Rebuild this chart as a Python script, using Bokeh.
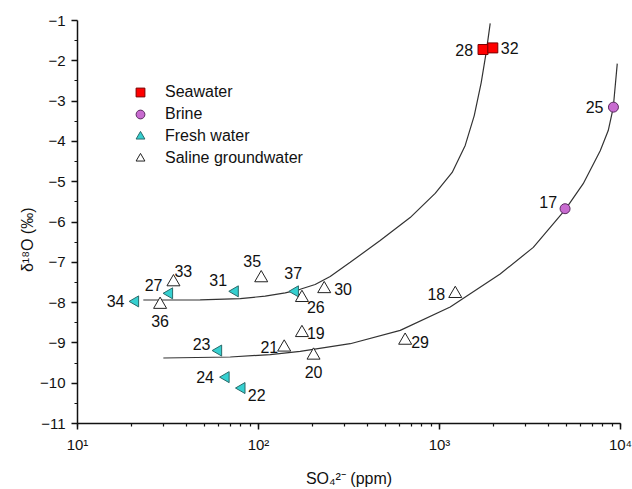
import numpy as np
from bokeh.plotting import figure
from bokeh.models import (ColumnDataSource, FixedTicker, CustomJSTickFormatter,
                          Legend, LegendItem, Range1d)
from bokeh.core.properties import value
from bokeh.embed import file_html
from bokeh.resources import INLINE

# ---------------- data ----------------
sea_id = ["28", "32"]
sea_so4 = [1740, 1970]
sea_d18o = [-1.72, -1.68]

brine_id = ["25", "17"]
brine_so4 = [9140, 4940]
brine_d18o = [-3.15, -5.67]

fresh_id = ["34", "27", "31", "37", "23", "24", "22"]
fresh_so4 = [20.9, 32.2, 74.3, 159.6, 60.1, 66.1, 80.9]
fresh_d18o = [-7.97, -7.77, -7.72, -7.72, -9.19, -9.85, -10.12]

saline_id = ["33", "36", "35", "26", "30", "19", "21", "20", "29", "18"]
saline_so4 = [33.9, 28.6, 103.5, 173.8, 230.7, 173.8, 138.7, 201.4, 646, 1222]
saline_d18o = [-7.49, -8.05, -7.39, -7.88, -7.66, -8.75, -9.11, -9.31, -8.94, -7.78]

# mixing curves
upper_so4 = [23.1, 47.6, 79.3, 108.9, 140.5, 170.0, 205.6, 248.9, 321.2, 470.0,
             688.5, 946.4, 1175, 1387, 1556, 1700, 1811, 1906]
upper_d18o = [-7.935, -7.93, -7.90, -7.84, -7.76, -7.67, -7.55, -7.35, -7.00, -6.46,
              -5.89, -5.29, -4.77, -4.10, -3.36, -2.54, -1.79, -1.07]

lower_so4 = [29.8, 69.8, 116.1, 170.0, 321.2, 606.8, 1146, 2163, 3298, 4940,
             6223, 7727, 8556, 9120, 9596]
lower_d18o = [-9.375, -9.35, -9.29, -9.21, -9.02, -8.69, -8.11, -7.29, -6.63, -5.70,
              -5.05, -4.23, -3.73, -3.16, -2.07]

y_ticks = [-11, -10, -9, -8, -7, -6, -5, -4, -3, -2, -1]

# label placement (styling): id -> (dx, dy, align)
label_place = {
    "28": (-10, 0, "right"), "32": (8, 0, "left"),
    "25": (-10, 0, "right"), "17": (-8, -7, "right"),
    "34": (-11, 0, "right"), "27": (-7, -8, "right"), "31": (-8, -11, "right"),
    "37": (-2, -18, "center"), "23": (-8, -7, "right"), "24": (-12, 0, "right"),
    "22": (6, 7, "left"),
    "33": (1, -11, "left"), "36": (0, 16, "center"), "35": (-9, -17, "center"),
    "26": (5, 9, "left"), "30": (10, 0, "left"), "19": (5, 0, "left"),
    "21": (-6, 0, "right"), "20": (0, 17, "center"), "29": (6, 2, "left"),
    "18": (-10, 0, "right"),
}

FONT = "Liberation Sans"

p = figure(width=632, height=489, x_axis_type="log",
           x_range=Range1d(10, 10000), y_range=Range1d(-11, -1),
           output_backend="svg", toolbar_location=None,
           min_border_left=77, min_border_right=12, min_border_top=20, min_border_bottom=66)
p.outline_line_color = None
p.grid.visible = False
p.background_fill_color = "white"

# axes
for ax in (p.xaxis[0], p.yaxis[0]):
    ax.axis_line_width = 1.5
    ax.axis_line_color = "#111111"
    ax.major_tick_line_color = "#111111"
    ax.minor_tick_line_color = "#111111"
    ax.major_tick_line_width = 1.5
    ax.minor_tick_line_width = 1.2
    ax.major_tick_out = 6
    ax.major_tick_in = 0
    ax.minor_tick_out = 3
    ax.minor_tick_in = 0
    ax.major_label_text_font = FONT
    ax.major_label_text_font_size = "15px"
    ax.major_label_text_color = "#111111"
    ax.axis_label_text_font = FONT
    ax.axis_label_text_font_size = "16px"
    ax.axis_label_text_font_style = "normal"
    ax.axis_label_text_color = "#111111"

p.yaxis.ticker = FixedTicker(ticks=y_ticks, minor_ticks=[t + 0.5 for t in y_ticks[:-1]])
p.yaxis.major_label_standoff = 6
p.yaxis.axis_label = "δ¹⁸O (‰)" + "\u00a0" * 8
p.yaxis.axis_label_standoff = 1

p.xaxis.formatter = CustomJSTickFormatter(code="""
const e = Math.round(Math.log10(tick));
const sup = {'0':'⁰','1':'¹','2':'²','3':'³','4':'⁴','5':'⁵'};
return '10' + String(e).split('').map(c => sup[c]).join('');
""")
p.xaxis.major_label_standoff = 6
p.xaxis.axis_label = "SO₄²⁻ (ppm)"
p.xaxis.axis_label_standoff = 14

# mixing curves
p.line(upper_so4, upper_d18o, line_color="#333333", line_width=1.2)
p.line(lower_so4, lower_d18o, line_color="#333333", line_width=1.2)

# markers
r_sea = p.scatter(sea_so4, sea_d18o, marker="square", size=10,
                  fill_color="#FF0000", line_color="#7a0000", line_width=1)
r_brine = p.scatter(brine_so4, brine_d18o, marker="circle", size=10,
                    fill_color="#C86BD0", line_color="#5a2a60", line_width=1)
r_fresh = p.scatter(fresh_so4, fresh_d18o, marker="triangle", size=11, angle=np.pi / 2,
                    fill_color="#35D0D0", line_color="#2a6a6a", line_width=1)
r_saline = p.scatter(saline_so4, saline_d18o, marker="triangle", size=13,
                     fill_color="white", line_color="#222222", line_width=1)

# point labels
ids = sea_id + brine_id + fresh_id + saline_id
xs = sea_so4 + brine_so4 + fresh_so4 + saline_so4
ys = sea_d18o + brine_d18o + fresh_d18o + saline_d18o
lab_src = ColumnDataSource(dict(
    x=xs, y=ys, t=ids,
    dx=[label_place[i][0] for i in ids],
    dy=[label_place[i][1] for i in ids],
    al=[label_place[i][2] for i in ids],
))
p.text(x="x", y="y", text="t", x_offset="dx", y_offset="dy", text_align="al",
       text_baseline="middle", text_font=value(FONT), text_font_size="16px",
       text_color="#111111", source=lab_src)

legend = Legend(items=[
    LegendItem(label="Seawater", renderers=[r_sea]),
    LegendItem(label="Brine", renderers=[r_brine]),
    LegendItem(label="Fresh water", renderers=[r_fresh]),
    LegendItem(label="Saline groundwater", renderers=[r_saline]),
], location=(52, 254), orientation="vertical")
legend.background_fill_alpha = 0
legend.border_line_color = None
legend.padding = 0
legend.margin = 0
legend.spacing = 0
legend.label_height = 22
legend.glyph_height = 22
legend.glyph_width = 22
legend.label_standoff = 14
legend.label_text_font = FONT
legend.label_text_font_size = "16px"
legend.label_text_color = "#111111"
legend.label_text_baseline = "middle"
p.add_layout(legend, "center")

open("out.html", "w").write(file_html(p, INLINE))
